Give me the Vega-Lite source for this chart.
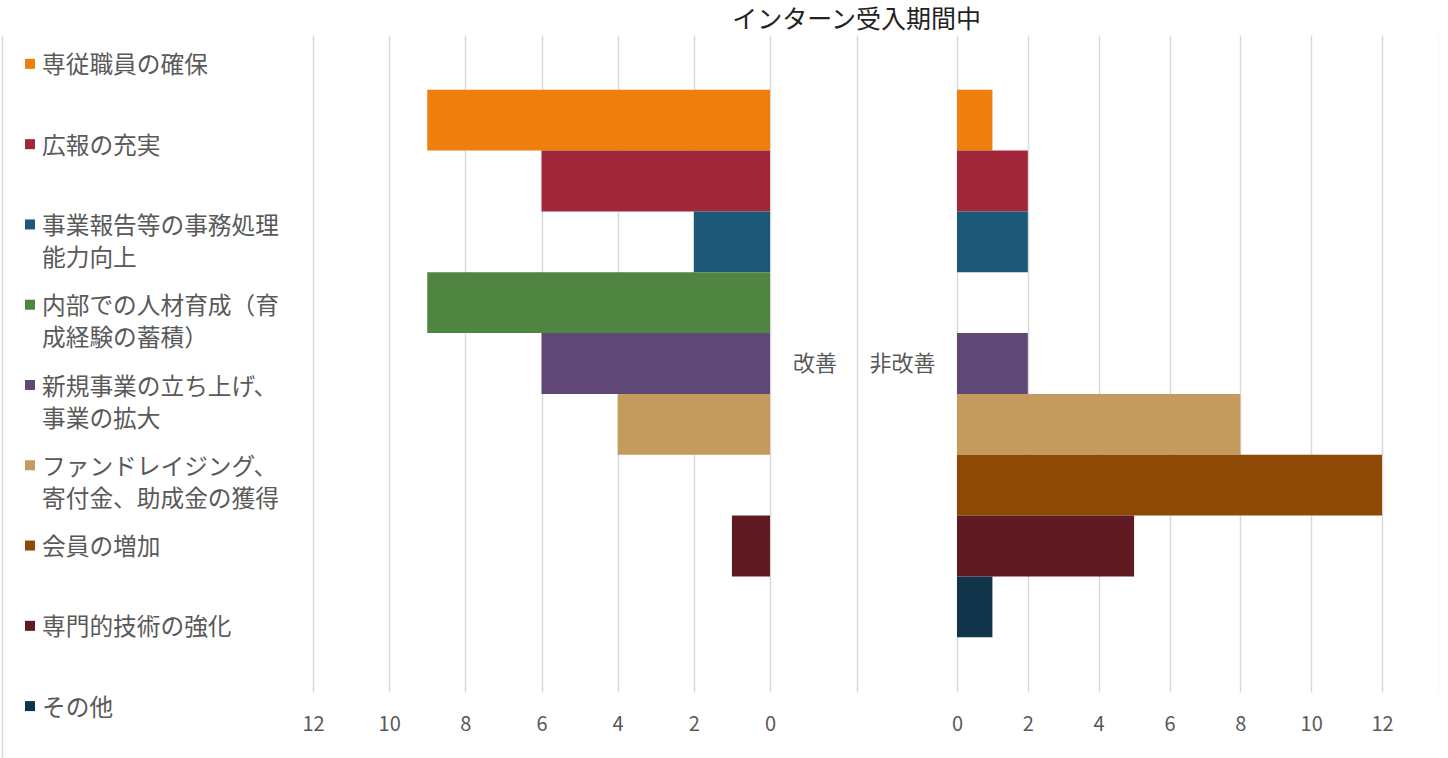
{
  "$schema": "https://vega.github.io/schema/vega-lite/v6.json",
  "background": "white",
  "padding": {"left": 2, "top": 8, "right": 0, "bottom": 0},
  "title": {"text": "インターン受入期間中", "fontSize": 25, "font": "Noto Sans CJK JP", "fontWeight": "normal", "color": "#222222", "anchor": "middle", "offset": 2, "dx": 136},
  "config": {"view": {"stroke": null}, "font": "Noto Sans CJK JP"},
  "data": {"values": [
    {"cat": "専従職員の確保", "label": "専従職員の確保", "imp": 9, "non": 1},
    {"cat": "広報の充実", "label": "広報の充実", "imp": 6, "non": 2},
    {"cat": "事業報告等の事務処理能力向上", "label": "事業報告等の事務処理\n能力向上", "imp": 2, "non": 2},
    {"cat": "内部での人材育成（育成経験の蓄積）", "label": "内部での人材育成（育\n成経験の蓄積）", "imp": 9, "non": 0},
    {"cat": "新規事業の立ち上げ、事業の拡大", "label": "新規事業の立ち上げ、\n事業の拡大", "imp": 6, "non": 2},
    {"cat": "ファンドレイジング、寄付金、助成金の獲得", "label": "ファンドレイジング、\n寄付金、助成金の獲得", "imp": 4, "non": 8},
    {"cat": "会員の増加", "label": "会員の増加", "imp": 0, "non": 12},
    {"cat": "専門的技術の強化", "label": "専門的技術の強化", "imp": 1, "non": 5},
    {"cat": "その他", "label": "その他", "imp": 0, "non": 1}
  ]},
  "spacing": 22,
  "hconcat": [
    {
      "width": 12,
      "height": 704,
      "layer": [
        {
          "mark": {"type": "square", "size": 100, "opacity": 1},
          "encoding": {
            "x": {"datum": "s", "type": "nominal", "scale": {"type": "point", "domain": ["s", "t"], "padding": 0}, "axis": null},
            "y": {"field": "cat", "type": "nominal", "bandPosition": 0.3598,
                  "scale": {"type": "band", "domain": ["専従職員の確保", "広報の充実", "事業報告等の事務処理能力向上", "内部での人材育成（育成経験の蓄積）", "新規事業の立ち上げ、事業の拡大", "ファンドレイジング、寄付金、助成金の獲得", "会員の増加", "専門的技術の強化", "その他"], "paddingInner": 0, "paddingOuter": 0, "range": [0, 722.5]},
                  "axis": {"orient": "left", "labels": false, "ticks": false, "title": null, "grid": false, "domain": true, "domainColor": "#d9d9d9", "domainWidth": 1.5, "offset": 28}},
            "color": {"field": "cat", "type": "nominal",
                      "scale": {"domain": ["専従職員の確保", "広報の充実", "事業報告等の事務処理能力向上", "内部での人材育成（育成経験の蓄積）", "新規事業の立ち上げ、事業の拡大", "ファンドレイジング、寄付金、助成金の獲得", "会員の増加", "専門的技術の強化", "その他"],
                                "range": ["#EE7F0C", "#A0283A", "#1E5878", "#4F8441", "#5F4876", "#C49A5D", "#8E4A04", "#5F1A22", "#10344A"]},
                      "legend": null}
          }
        },
        {
          "mark": {"type": "text", "align": "left", "baseline": "top", "fontSize": 23.7, "lineBreak": "\n", "lineHeight": 32, "color": "#595959"},
          "encoding": {
            "x": {"datum": "t", "type": "nominal"},
            "y": {"field": "cat", "type": "nominal", "bandPosition": 0.2427},
            "text": {"field": "label"}
          }
        }
      ]
    },
    {
      "spacing": 20,
      "hconcat": [
        {
          "width": 457,
          "height": 657,
          "mark": {"type": "bar"},
          "encoding": {
            "y": {"field": "cat", "type": "nominal",
                  "scale": {"domain": ["専従職員の確保", "広報の充実", "事業報告等の事務処理能力向上", "内部での人材育成（育成経験の蓄積）", "新規事業の立ち上げ、事業の拡大", "ファンドレイジング、寄付金、助成金の獲得", "会員の増加", "専門的技術の強化", "その他"], "paddingInner": 0, "paddingOuter": 0.9},
                  "axis": {"orient": "right", "labels": false, "ticks": false, "domain": false, "grid": false, "title": "改善", "titleAngle": 0, "titleX": 44.5, "titleY": 328.5, "titleAlign": "center", "titleBaseline": "middle", "titleFontSize": 22, "titleFontWeight": "normal", "titleColor": "#595959"}},
            "x": {"field": "imp", "type": "quantitative",
                  "scale": {"domain": [0, 12], "reverse": true, "nice": false},
                  "axis": {"values": [0, 2, 4, 6, 8, 10, 12], "title": null, "grid": true, "gridColor": "#d9d9d9", "gridWidth": 1.5, "domain": false, "ticks": false, "tickSize": 0, "labelFlush": false, "labelPadding": 22, "labelFontSize": 20, "labelColor": "#595959"}},
            "color": {"field": "cat", "type": "nominal", "legend": null}
          }
        },
        {
          "width": 425,
          "height": 657,
          "layer": [
            {
              "mark": {"type": "bar"},
              "encoding": {
                "y": {"field": "cat", "type": "nominal",
                      "scale": {"domain": ["専従職員の確保", "広報の充実", "事業報告等の事務処理能力向上", "内部での人材育成（育成経験の蓄積）", "新規事業の立ち上げ、事業の拡大", "ファンドレイジング、寄付金、助成金の獲得", "会員の増加", "専門的技術の強化", "その他"], "paddingInner": 0, "paddingOuter": 0.9},
                      "axis": {"orient": "left", "labels": false, "ticks": false, "domain": true, "domainColor": "#d9d9d9", "domainWidth": 1.5, "offset": 100, "grid": false, "title": "非改善", "titleAngle": 0, "titleX": 45, "titleY": 328.5, "titleAlign": "center", "titleBaseline": "middle", "titleFontSize": 22, "titleFontWeight": "normal", "titleColor": "#595959"}},
                "x": {"field": "non", "type": "quantitative",
                      "scale": {"domain": [0, 12], "nice": false},
                      "axis": {"values": [0, 2, 4, 6, 8, 10, 12], "title": null, "grid": true, "gridColor": "#d9d9d9", "gridWidth": 1.5, "domain": false, "ticks": false, "tickSize": 0, "labelFlush": false, "labelPadding": 22, "labelFontSize": 20, "labelColor": "#595959"}},
                "color": {"field": "cat", "type": "nominal", "legend": null}
              }
            },
            {
              "mark": {"type": "bar", "opacity": 0},
              "encoding": {
                "y": {"field": "cat", "type": "nominal",
                      "axis": {"orient": "right", "labels": false, "ticks": false, "title": null, "grid": false, "domain": true, "domainColor": "#d9d9d9", "domainWidth": 1.5, "offset": 57}},
                "x": {"field": "non", "type": "quantitative"}
              }
            }
          ],
          "resolve": {"axis": {"y": "independent"}}
        }
      ]
    }
  ]
}
